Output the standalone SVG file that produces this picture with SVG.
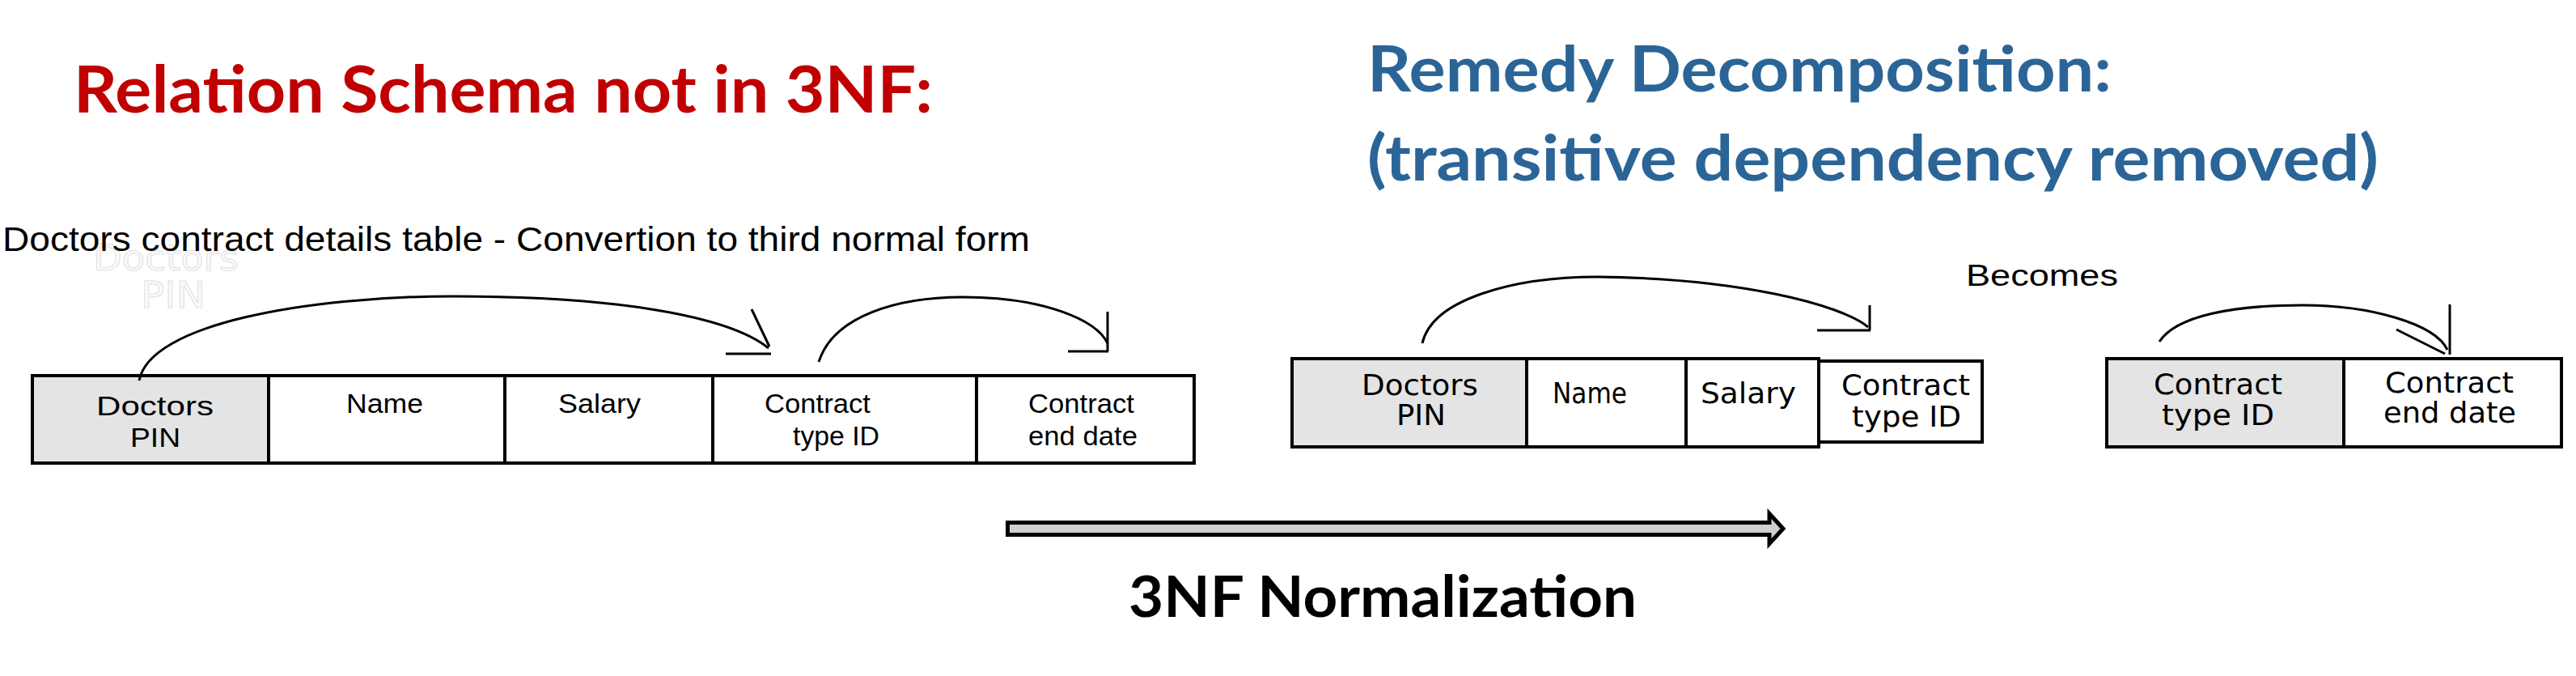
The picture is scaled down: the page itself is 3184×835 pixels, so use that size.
<svg xmlns="http://www.w3.org/2000/svg" width="3184" height="835" viewBox="0 0 3184 835">
<style>
.title{font-family:Lato,"Open Sans","Liberation Sans",sans-serif;font-weight:bold;}
.red{fill:#c00000;font-size:80px;}
.blue{fill:#2b6597;font-size:78px;}
.cap{font-family:"Liberation Sans",Arial,sans-serif;fill:#000;}
.t1{font-family:"Liberation Sans",Arial,sans-serif;font-size:33px;fill:#000;}
.t2{font-family:"DejaVu Sans",Verdana,sans-serif;font-size:35px;fill:#000;}
.cell{fill:#fff;stroke:#000;stroke-width:4;}
.key{fill:#e4e4e4;stroke:#000;stroke-width:4;}
.arc{fill:none;stroke:#000;stroke-width:3;}
.ghost{font-family:"DejaVu Sans",Verdana,sans-serif;font-size:44px;fill:#fafafa;stroke:#e2e2e2;stroke-width:1;}
</style>
<rect width="3184" height="835" fill="#fff"/>

<g id="title-left">
<text class="title red" x="91" y="139" textLength="1062" lengthAdjust="spacingAndGlyphs">Relation Schema not in 3NF:</text>
</g>
<g id="title-right">
<text class="title blue" x="1690" y="113" textLength="920" lengthAdjust="spacingAndGlyphs">Remedy Decomposition:</text>
<text class="title blue" x="1690" y="223" textLength="1250" lengthAdjust="spacingAndGlyphs">(transitive dependency removed)</text>
</g>

<g id="ghost-label">
<text class="ghost" x="115" y="334" textLength="180" lengthAdjust="spacingAndGlyphs">Doctors</text>
<text class="ghost" x="174" y="380" textLength="80" lengthAdjust="spacingAndGlyphs">PIN</text>
</g>

<g id="caption">
<text class="cap" x="3" y="310" font-size="42" textLength="1270" lengthAdjust="spacingAndGlyphs">Doctors contract details table - Convertion to third normal form</text>
</g>

<g id="becomes">
<text class="cap" x="2430" y="353" font-size="36" textLength="188" lengthAdjust="spacingAndGlyphs">Becomes</text>
</g>

<g id="table-original">
<g id="t1-doctors-pin">
<rect class="key" x="40" y="464" width="292" height="108"/>
<text class="t1" x="119" y="513" textLength="145" lengthAdjust="spacingAndGlyphs">Doctors</text>
<text class="t1" x="161" y="552" textLength="62" lengthAdjust="spacingAndGlyphs">PIN</text>
</g>
<g id="t1-name">
<rect class="cell" x="332" y="464" width="292" height="108"/>
<text class="t1" x="428" y="510" textLength="95" lengthAdjust="spacingAndGlyphs">Name</text>
</g>
<g id="t1-salary">
<rect class="cell" x="624" y="464" width="257" height="108"/>
<text class="t1" x="690" y="510" textLength="102" lengthAdjust="spacingAndGlyphs">Salary</text>
</g>
<g id="t1-contract-type">
<rect class="cell" x="881" y="464" width="326" height="108"/>
<text class="t1" x="945" y="510" textLength="131" lengthAdjust="spacingAndGlyphs">Contract</text>
<text class="t1" x="980" y="550" textLength="107" lengthAdjust="spacingAndGlyphs">type ID</text>
</g>
<g id="t1-contract-end">
<rect class="cell" x="1207" y="464" width="269" height="108"/>
<text class="t1" x="1271" y="510" textLength="131" lengthAdjust="spacingAndGlyphs">Contract</text>
<text class="t1" x="1271" y="550" textLength="135" lengthAdjust="spacingAndGlyphs">end date</text>
</g>
</g>

<g id="table-doctors">
<g id="t2-doctors-pin">
<rect class="key" x="1597" y="443" width="290" height="109"/>
<text class="t2" x="1683" y="488" textLength="144" lengthAdjust="spacingAndGlyphs">Doctors</text>
<text class="t2" x="1726" y="525" textLength="61" lengthAdjust="spacingAndGlyphs">PIN</text>
</g>
<g id="t2-name">
<rect class="cell" x="1887" y="443" width="197" height="109"/>
<text class="t2" x="1919" y="498" textLength="92" lengthAdjust="spacingAndGlyphs">Name</text>
</g>
<g id="t2-salary">
<rect class="cell" x="2084" y="443" width="164" height="109"/>
<text class="t2" x="2102" y="498" textLength="118" lengthAdjust="spacingAndGlyphs">Salary</text>
</g>
<g id="t2-contract-type">
<rect class="cell" x="2248" y="446" width="202" height="100"/>
<text class="t2" x="2276" y="488" textLength="159" lengthAdjust="spacingAndGlyphs">Contract</text>
<text class="t2" x="2289" y="527" textLength="135" lengthAdjust="spacingAndGlyphs">type ID</text>
</g>
</g>

<g id="table-contract">
<g id="t3-contract-type">
<rect class="key" x="2604" y="443" width="293" height="109"/>
<text class="t2" x="2662" y="487" textLength="159" lengthAdjust="spacingAndGlyphs">Contract</text>
<text class="t2" x="2672" y="525" textLength="139" lengthAdjust="spacingAndGlyphs">type ID</text>
</g>
<g id="t3-contract-end">
<rect class="cell" x="2897" y="443" width="269" height="109"/>
<text class="t2" x="2948" y="485" textLength="159" lengthAdjust="spacingAndGlyphs">Contract</text>
<text class="t2" x="2946" y="522" textLength="164" lengthAdjust="spacingAndGlyphs">end date</text>
</g>
</g>

<g id="connectors">
<path class="arc" d="M 172 470 C 185 400, 380 366, 560 366 C 760 366, 900 390, 950 430"/>
<path class="arc" d="M 929 382 L 951 428 M 897 437 L 953 437"/>
<path class="arc" d="M 1012 447 C 1030 390, 1110 367, 1190 367 C 1290 367, 1355 395, 1369 424"/>
<path class="arc" d="M 1369 385 L 1369 434 M 1320 434 L 1370 434"/>
<path class="arc" d="M 1758 424 C 1770 370, 1870 342, 1975 342 C 2150 344, 2275 376, 2309 404"/>
<path class="arc" d="M 2311 377 L 2311 408 M 2246 408 L 2312 408"/>
<path class="arc" d="M 2669 422 C 2690 390, 2760 377, 2846 377 C 2930 377, 3010 400, 3025 432"/>
<path class="arc" d="M 3028 376 L 3028 438 M 2962 407 L 3022 437"/>
<polygon id="normalize-arrow" points="1245.5,645.5 2187,645.5 2187,634.5 2204,653 2187,671.5 2187,660.5 1245.5,660.5" fill="#d0d0d0" stroke="#000" stroke-width="5"/>
</g>

<g id="arrow-label">
<text class="title" x="1395" y="762" font-size="70" fill="#000" textLength="628" lengthAdjust="spacingAndGlyphs">3NF Normalization</text>
</g>
</svg>
